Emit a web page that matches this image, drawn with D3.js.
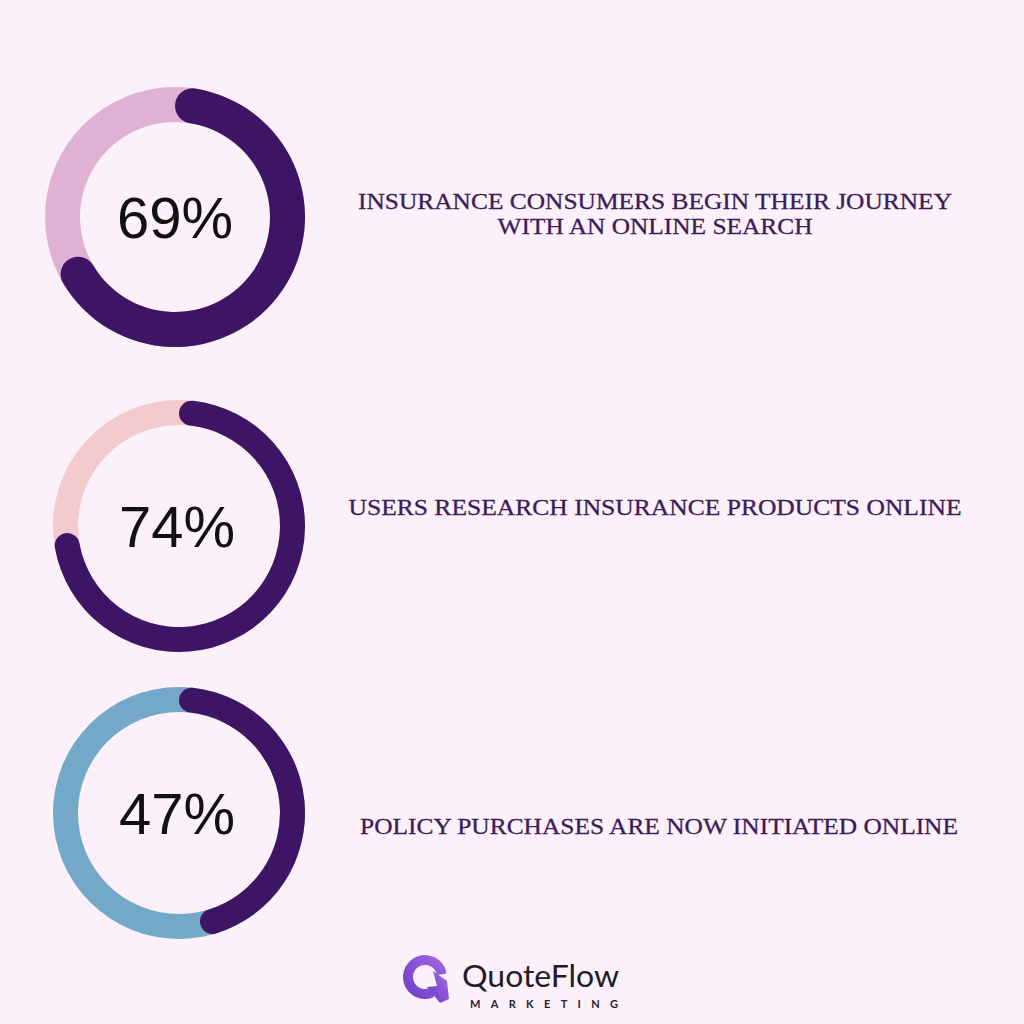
<!DOCTYPE html>
<html>
<head>
<meta charset="utf-8">
<script src="https://cdn.jsdelivr.net/npm/d3@7"></script>
<style>
  html, body { margin: 0; padding: 0; background: #fcf0fa; }
  svg { display: block; }
</style>
</head>
<body>
<div id="chart"></div>
<script>
// stat values (percent)
var values = [69, 74, 47];
var valueLabels = ["69%", "74%", "47%"];
var captions = [
  ["INSURANCE CONSUMERS BEGIN THEIR JOURNEY", "WITH AN ONLINE SEARCH"],
  ["USERS RESEARCH INSURANCE PRODUCTS ONLINE"],
  ["POLICY PURCHASES ARE NOW INITIATED ONLINE"]
];
var trackColors = ["#dfb1d3", "#f4cbcc", "#74a8c8"];
var brandName = "QuoteFlow";
var brandSub = "MARKETING";

// layout (not data)
var width = 1024, height = 1024;
var rings = [
  {cx: 175, cy: 217, outer: 130, inner: 95, dx: 0},
  {cx: 179, cy: 526, outer: 126, inner: 101, dx: -2},
  {cx: 179, cy: 813, outer: 126, inner: 101, dx: -2}
];
var captionLayout = [
  {x: 655, y: [209, 234], len: [594, 315]},
  {x: 655, y: [515], len: [613]},
  {x: 659, y: [834], len: [598]}
];
var dark = "#3e1464";

var svg = d3.select("#chart").append("svg")
  .attr("width", width)
  .attr("height", height);

svg.append("rect").attr("width", width).attr("height", height).attr("fill", "#fcf0fa");

var angle = d3.scaleLinear().domain([0, 100]).range([0, 2 * Math.PI]);

var groups = svg.selectAll("g.stat")
  .data(values)
  .enter().append("g")
  .attr("class", "stat")
  .attr("transform", function(d, i) {
    return "translate(" + rings[i].cx + "," + rings[i].cy + ")";
  });

// background track
groups.append("path")
  .attr("d", function(d, i) {
    return d3.arc()
      .innerRadius(rings[i].inner)
      .outerRadius(rings[i].outer)
      .startAngle(0)
      .endAngle(2 * Math.PI)();
  })
  .attr("fill", function(d, i) { return trackColors[i]; });

// value arc with rounded ends
groups.append("path")
  .attr("d", function(d, i) {
    var r = rings[i];
    return d3.arc()
      .innerRadius(r.inner)
      .outerRadius(r.outer)
      .cornerRadius((r.outer - r.inner) / 2)
      .startAngle(angle(0))
      .endAngle(angle(d))();
  })
  .attr("fill", dark);

groups.append("text")
  .attr("x", function(d, i) { return rings[i].dx; })
  .attr("y", 21)
  .attr("text-anchor", "middle")
  .attr("font-family", "'Liberation Sans', Arial, sans-serif")
  .attr("font-size", 58)
  .attr("fill", "#111111")
  .text(function(d, i) { return valueLabels[i]; });

// captions
captions.forEach(function(lines, i) {
  var c = captionLayout[i];
  lines.forEach(function(line, j) {
    svg.append("text")
      .attr("x", c.x)
      .attr("y", c.y[j])
      .attr("text-anchor", "middle")
      .attr("font-family", "'Liberation Serif', 'DejaVu Serif', serif")
      .attr("font-size", 24)
      .attr("fill", "#3b1c58")
      .attr("stroke", "#3b1c58")
      .attr("stroke-width", 0.3)
      .attr("textLength", c.len[j])
      .attr("lengthAdjust", "spacingAndGlyphs")
      .text(line);
  });
});

// logo
var defs = svg.append("defs");
var grad = defs.append("linearGradient")
  .attr("id", "logoGrad")
  .attr("x1", "100%").attr("y1", "0%")
  .attr("x2", "0%").attr("y2", "100%");
grad.append("stop").attr("offset", "0%").attr("stop-color", "#a56ae6");
grad.append("stop").attr("offset", "100%").attr("stop-color", "#6a3cc4");

var logo = svg.append("g").attr("transform", "translate(425,977)");
logo.append("path")
  .attr("d", d3.arc()
    .innerRadius(12)
    .outerRadius(22)
    .cornerRadius(2)
    .startAngle(Math.PI * 0.85)
    .endAngle(Math.PI * 2.45)())
  .attr("fill", "url(#logoGrad)");
logo.append("path")
  .attr("d", "M8,-6 L22,4 L24,22 L15,26 L2,10 L12,9 Z")
  .attr("fill", "url(#logoGrad)");

svg.append("text")
  .attr("x", 462)
  .attr("y", 987)
  .attr("font-family", "Lato, 'Noto Sans', sans-serif")
  .attr("font-size", 30)
  .attr("fill", "#221b2c")
  .attr("textLength", 157)
  .attr("lengthAdjust", "spacingAndGlyphs")
  .text(brandName);

svg.append("text")
  .attr("x", 470)
  .attr("y", 1008)
  .attr("font-family", "Lato, 'Noto Sans', sans-serif")
  .attr("font-size", 11)
  .attr("font-weight", "bold")
  .attr("fill", "#2a2233")
  .attr("textLength", 148)
  .attr("lengthAdjust", "spacing")
  .text(brandSub);
</script>
</body>
</html>
